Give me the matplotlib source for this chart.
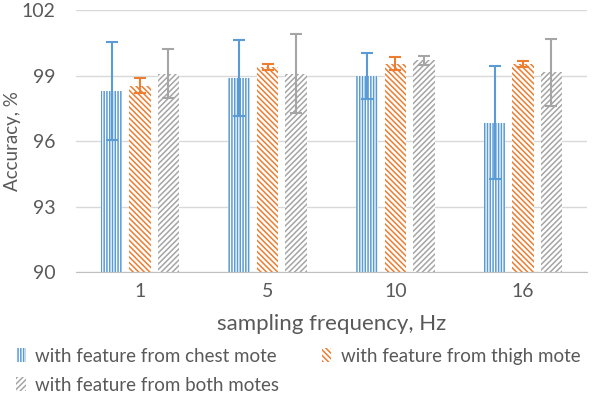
import matplotlib
matplotlib.use("Agg")
from matplotlib import pyplot as plt
import numpy as np

categories = ["1", "5", "10", "16"]
series_names = ["with feature from chest mote",
                "with feature from thigh mote",
                "with feature from both motes"]
chest = [98.3, 98.9, 99.0, 96.85]
chest_err = [2.25, 1.73, 1.05, 2.6]
thigh = [98.55, 99.4, 99.55, 99.55]
thigh_err = [0.35, 0.15, 0.3, 0.13]
both = [99.1, 99.1, 99.7, 99.15]
both_err = [1.1, 1.8, 0.2, 1.55]

colors = ["#5B9BD5", "#ED7D31", "#A5A5A5"]
hatches = ["||||||", "\\\\\\\\\\\\", "//////"]
text_color = "#595959"

plt.rcParams['font.family'] = ['Lato', 'DejaVu Sans']
plt.rcParams['hatch.linewidth'] = 1.1

fig = plt.figure(figsize=(6, 4.08), dpi=100)
ax = fig.add_axes([0.127, 0.333, 0.851, 0.642])

x = np.arange(len(categories))
width = 0.168
offset = 0.223
data = [(chest, chest_err), (thigh, thigh_err), (both, both_err)]
bars = []
for i, (vals, errs) in enumerate(data):
    pos = x + (i - 1) * offset
    b = ax.bar(pos, vals, width, color="white", edgecolor=colors[i], linewidth=0,
               hatch=hatches[i], label=series_names[i], zorder=2)
    bars.append(b)
    ax.errorbar(pos, vals, yerr=errs, fmt="none", ecolor=colors[i],
                elinewidth=1.5, capsize=4, capthick=1.5, zorder=3)

ax.set_ylim(90, 102)
ax.set_yticks([90, 93, 96, 99, 102])
ax.set_xlim(-0.5, 3.5)
ax.set_xticks(x)
ax.set_xticklabels(categories)
ax.tick_params(length=0, labelsize=14, colors=text_color, pad=8)
ax.tick_params(axis="y", pad=15)
ax.grid(axis="y", color="#D9D9D9", linewidth=1, zorder=0)
for s in ["top", "right", "left"]:
    ax.spines[s].set_visible(False)
ax.spines["bottom"].set_color("#BFBFBF")
ax.spines["bottom"].set_zorder(4)

ax.set_ylabel("Accuracy, %", fontsize=13.5, color=text_color)
ax.yaxis.set_label_coords(-0.108, 0.5)
ax.set_xlabel("sampling frequency, Hz", fontsize=16, color=text_color, labelpad=10)

# legend filled column-wise, so reorder to get chest, thigh on the first row
order = [0, 2, 1]
fig.legend([bars[k] for k in order], [series_names[k] for k in order],
           loc="upper left", bbox_to_anchor=(0.027, 0.148), ncol=2,
           frameon=False, fontsize=13.5, labelcolor=text_color,
           handlelength=0.5, handleheight=0.8, handletextpad=0.5,
           columnspacing=2.3, borderaxespad=0, borderpad=0, labelspacing=0.65)

fig.savefig("out.png", dpi=100)
